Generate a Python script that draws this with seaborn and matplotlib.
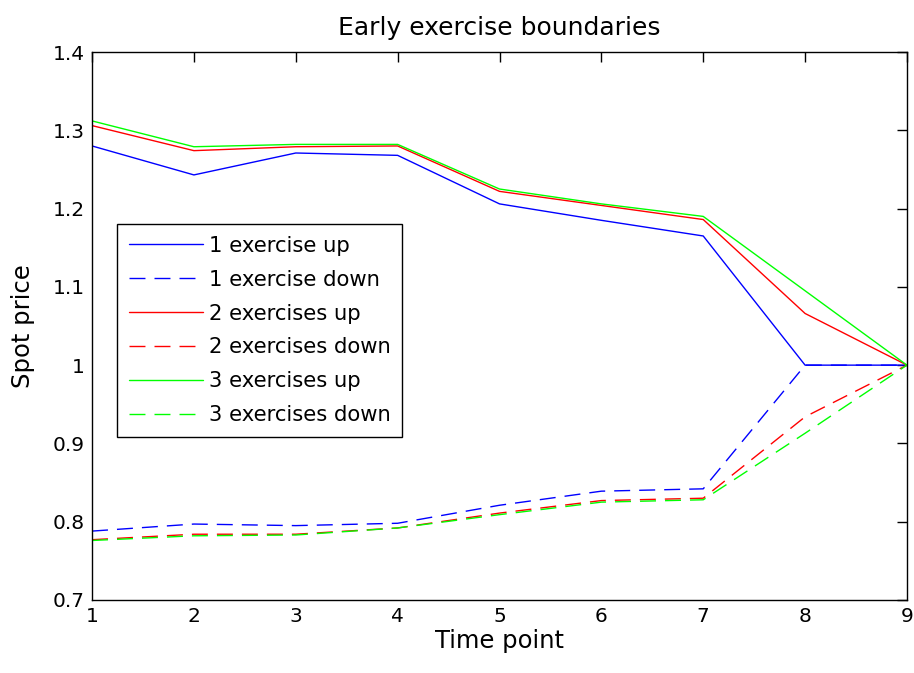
import matplotlib
matplotlib.use("Agg")
import matplotlib.pyplot as plt
import seaborn as sns
import pandas as pd

time_points = [1, 2, 3, 4, 5, 6, 7, 8, 9]

up_1 = [1.280, 1.243, 1.271, 1.268, 1.206, 1.185, 1.165, 1.000, 1.000]
down_1 = [0.788, 0.797, 0.795, 0.798, 0.821, 0.839, 0.842, 1.000, 1.000]
up_2 = [1.306, 1.274, 1.279, 1.280, 1.222, 1.204, 1.186, 1.066, 1.000]
down_2 = [0.777, 0.784, 0.784, 0.792, 0.811, 0.827, 0.830, 0.934, 1.000]
up_3 = [1.312, 1.279, 1.282, 1.282, 1.225, 1.206, 1.190, 1.095, 1.000]
down_3 = [0.776, 0.782, 0.783, 0.792, 0.809, 0.825, 0.828, 0.913, 1.000]

series_labels = ["1 exercise up", "1 exercise down",
                 "2 exercises up", "2 exercises down",
                 "3 exercises up", "3 exercises down"]
series_values = [up_1, down_1, up_2, down_2, up_3, down_3]
series_colors = ["#0000ff", "#0000ff", "#ff0000", "#ff0000", "#00ff00", "#00ff00"]
series_styles = ["-", "--", "-", "--", "-", "--"]

sns.set_theme(style="white")
plt.rcParams["font.family"] = ["DejaVu Sans"]
plt.rcParams["lines.scale_dashes"] = False
plt.rcParams["text.color"] = "black"
plt.rcParams["axes.labelcolor"] = "black"

fig = plt.figure(figsize=(9.14, 6.73), dpi=100)
ax = fig.add_axes([0.1007, 0.1085, 0.8916, 0.8142])

for label, values, color, style in zip(series_labels, series_values,
                                       series_colors, series_styles):
    df = pd.DataFrame({"t": time_points, "price": values})
    sns.lineplot(data=df, x="t", y="price", ax=ax, color=color,
                 linewidth=1.0, label=label)
    line = ax.lines[-1]
    if style == "--":
        line.set_dashes((11.5, 6.5))

ax.set_xlim(1, 9)
ax.set_ylim(0.7, 1.4)
ax.set_xticks(time_points)
ax.set_xticklabels([str(t) for t in time_points])
ax.set_yticks([0.7, 0.8, 0.9, 1.0, 1.1, 1.2, 1.3, 1.4])
ax.set_yticklabels(["0.7", "0.8", "0.9", "1", "1.1", "1.2", "1.3", "1.4"])

ax.tick_params(direction="in", length=7, width=1, colors="black",
               labelsize=14.5, top=True, right=True, pad=5)
for spine in ax.spines.values():
    spine.set_visible(True)
    spine.set_color("black")
    spine.set_linewidth(1.0)

ax.set_title("Early exercise boundaries", fontsize=18, pad=12, color="black")
ax.set_xlabel("Time point", fontsize=17.5, labelpad=2)
ax.set_ylabel("Spot price", fontsize=17.5, labelpad=13)

leg = ax.legend(loc="upper left", bbox_to_anchor=(0.0307, 0.686),
                borderaxespad=0, fontsize=15.2, frameon=True, fancybox=False,
                edgecolor="black", handlelength=3.5, handletextpad=0.3,
                labelspacing=0.66, borderpad=0.55)
leg.get_frame().set_linewidth(1.0)
leg.get_frame().set_alpha(1)
for text in leg.get_texts():
    text.set_color("black")

fig.savefig("out.png", dpi=100, facecolor="white")
